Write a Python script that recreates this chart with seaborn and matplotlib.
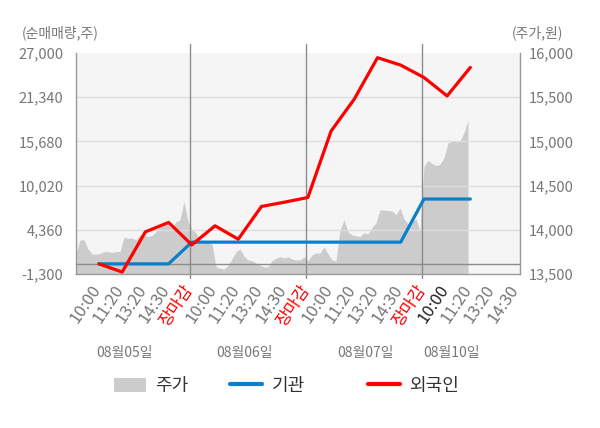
import numpy as np
import matplotlib
matplotlib.use("Agg")
import matplotlib.pyplot as plt
import matplotlib.transforms as mtransforms
from matplotlib.patches import Patch
from matplotlib.lines import Line2D
import seaborn as sns

# -----------------------------
# Data
# -----------------------------
time_labels = ["10:00", "11:20", "13:20", "14:30", "장마감"] * 4
date_labels = ["08월05일", "08월06일", "08월07일", "08월10일"]

# net buying (shares), one point per time slot
foreign = [0, -1050, 4100, 5300, 2430, 4870, 3160, 7350, 7900, 8500,
           17000, 21100, 26400, 25450, 23870, 21500, 25150]
institution = [0, 0, 0, 0, 2780, 2780, 2780, 2780, 2780, 2780,
               2780, 2780, 2780, 2780, 8300, 8300, 8300]

# intraday price (won), sampled evenly across the shown period
price = [13727, 13886, 13886, 13784, 13727, 13724, 13733, 13753, 13753, 13744, 13753, 13753,
         13917, 13903, 13909, 13886, 13943, 13943, 13924, 13937, 13977, 14057, 14076, 14057,
         14023, 14091, 14114, 14322, 14091,
         14006, 13966, 13886, 13867, 13858, 13835, 13583, 13565, 13557, 13597, 13670, 13753,
         13781, 13705, 13659, 13651, 13625, 13602, 13580, 13580, 13651, 13678, 13697, 13682,
         13693, 13670, 13659, 13659, 13693,
         13648, 13716, 13739, 13735, 13807, 13727, 13659, 13648, 14000, 14114, 13977, 13943,
         13932, 13924, 13966, 13955, 14023, 14080, 14227, 14222, 14216, 14216, 14170, 14247,
         14125, 14068, 14091, 14125, 13981,
         14716, 14784, 14750, 14727, 14739, 14818, 14983, 15003, 15003, 15003, 15102, 15239]

vol_ticks = [-1300, 4360, 10020, 15680, 21340, 27000]
price_ticks = [13500, 14000, 14500, 15000, 15500, 16000]

# -----------------------------
# Theme
# -----------------------------
sns.set_theme(style="white")
plt.rcParams["font.family"] = ["Noto Sans CJK KR", "DejaVu Sans"]

RED = "#ff0000"
BLUE = "#0a7fcc"
AREA = "#cccccc"
TXT = "#777777"

fig = plt.figure(figsize=(6, 4.28), dpi=100)
ax = fig.add_axes([76 / 600, 1 - 274 / 428, 444 / 600, 221 / 428])
ax2 = ax.twinx()

# price area on ax (right scale), flows on ax2 (left scale)
ax.yaxis.tick_right()
ax.yaxis.set_label_position("right")
ax2.yaxis.tick_left()
ax2.yaxis.set_label_position("left")

ax.set_facecolor("#f5f5f5")
ax2.patch.set_visible(False)

x_price = np.linspace(-0.91, 15.98, len(price))
ax.fill_between(x_price, 13500, price, color=AREA, lw=0, zorder=1)

for t in price_ticks[1:-1]:
    ax.axhline(t, color="#dddddd", lw=1, zorder=1.5)

for xd in [4, 9, 14]:
    ax.axvline(xd, ymin=-0.02, ymax=1.04, color="#8c8c8c", lw=1, zorder=1.6, clip_on=False)

ax2.axhline(0, color="#8c8c8c", lw=1, zorder=1)

x_pts = np.arange(len(foreign)) + 0.08
sns.lineplot(x=x_pts, y=institution, ax=ax2, color=BLUE, lw=2.3, zorder=3)
sns.lineplot(x=x_pts, y=foreign, ax=ax2, color=RED, lw=2.3, zorder=4)

ax.set_xticks(range(len(time_labels)))
ax.set_xticklabels(time_labels, rotation=56, ha="right", va="center", rotation_mode="anchor")
for i, lbl in enumerate(ax.get_xticklabels()):
    if time_labels[i] == "장마감":
        lbl.set_color(RED)
    elif i == 15:
        lbl.set_color("#222222")
    else:
        lbl.set_color(TXT)

ax.set_xlim(-0.91, 18.22)
ax.set_ylim(13500, 16000)
ax2.set_ylim(-1300, 27000)

ax.set_yticks(price_ticks)
ax.set_yticklabels([f"{v:,}" for v in price_ticks])
ax2.set_yticks(vol_ticks)
ax2.set_yticklabels([f"{v:,}" for v in vol_ticks])

ax.tick_params(axis="x", length=0, pad=9, labelsize=12)
ax.tick_params(axis="y", length=0, pad=6, labelsize=10.5, labelcolor=TXT)
ax2.tick_params(axis="y", length=0, pad=9, labelsize=10.5, labelcolor=TXT)

for side in ["left", "right", "bottom"]:
    ax.spines[side].set_color("#999999")
    ax.spines[side].set_linewidth(1)
ax.spines["top"].set_visible(False)
for s in ax2.spines.values():
    s.set_visible(False)
ax.set_xlabel("")
ax2.set_xlabel("")
ax.set_ylabel("")
ax2.set_ylabel("")

# date labels under the time ticks
date_pos = [1.16, 6.37, 11.54, 15.29]
trans = mtransforms.blended_transform_factory(ax.transData, fig.transFigure)
for xp, d in zip(date_pos, date_labels):
    ax.text(xp, 1 - 353 / 428, d, transform=trans, ha="center", va="center",
            fontsize=10, color=TXT)

fig.text(22 / 600, 1 - 33 / 428, "(순매매량,주)", ha="left", va="center", fontsize=10, color=TXT)
fig.text(563 / 600, 1 - 33 / 428, "(주가,원)", ha="right", va="center", fontsize=10, color=TXT)

# legend: one entry per slot, placed like the reference
handles = [Patch(facecolor=AREA, edgecolor="none"),
           Line2D([], [], color=BLUE, lw=3),
           Line2D([], [], color=RED, lw=3)]
legend_names = ["주가", "기관", "외국인"]
legend_x = [114, 230, 368]
for h, name, lx in zip(handles, legend_names, legend_x):
    leg = fig.legend([h], [name], loc="center left", bbox_to_anchor=(lx / 600, 1 - 386 / 428),
                     frameon=False, fontsize=13, handlelength=1.75, handleheight=0.85,
                     handletextpad=0.55, borderpad=0, borderaxespad=0, labelcolor="#333333")

fig.savefig("out.png", dpi=100)
